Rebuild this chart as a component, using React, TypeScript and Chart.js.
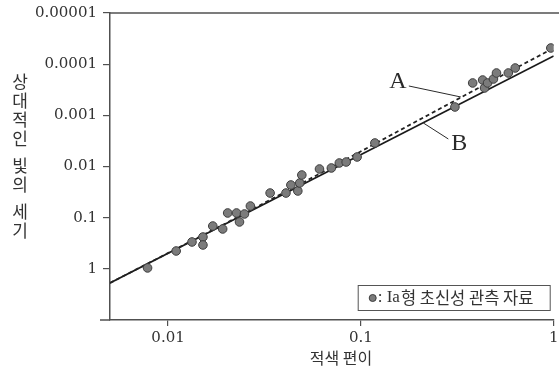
import React, { useEffect, useRef } from "react";
import { Chart, registerables } from "chart.js";

Chart.register(...registerables);

// Observed Type Ia supernovae: redshift (x) and relative brightness (y)
const redshift = [
  0.00783, 0.01102, 0.01331, 0.01517, 0.01517, 0.01706, 0.0192, 0.02038, 0.02265,
  0.0249, 0.02347, 0.02673, 0.03383, 0.04088, 0.04335, 0.0471, 0.0482, 0.0494,
  0.061, 0.0703, 0.0773, 0.0839, 0.0956, 0.1182, 0.3074, 0.38, 0.428, 0.438,
  0.454, 0.487, 0.505, 0.5816, 0.6317, 0.966,
];
const brightness = [
  0.96, 0.448, 0.2985, 0.2388, 0.342, 0.1456, 0.1663, 0.081, 0.081,
  0.0847, 0.1213, 0.0592, 0.033, 0.033, 0.02296, 0.0301, 0.021, 0.01466,
  0.01119, 0.01069, 0.00854, 0.00817, 0.00652, 0.00347, 0.000687, 0.000233, 0.000204, 0.000292,
  0.000233, 0.000195, 0.0001488, 0.0001488, 0.0001188, 0.0000483,
];

// Model line A (dashed) and line B (solid)
const lineARedshift = [0.005, 0.02, 0.06, 0.2, 0.4, 1.0];
const lineABrightness = [1.89, 0.128, 0.01436, 0.001233, 0.000303, 0.0000483];
const lineBRedshift = [0.005, 1.0];
const lineBBrightness = [1.89, 0.0000692];

const xTicks = [0.01, 0.1, 1];
const xTickLabels = ["0.01", "0.1", "1"];
const yTicks = [1, 0.1, 0.01, 0.001, 0.0001, 0.00001];
const yTickLabels = ["1", "0.1", "0.01", "0.001", "0.0001", "0.00001"];
const xMin = 0.005;
const xMax = 1;
const yMin = 0.00001;
const yMax = 10;

const yTitleWords = ["상대적인", "빛의", "세기"];
const xTitle = "적색 편이";
const legendSerif = ": Ia";
const legendKorean = "형 초신성 관측 자료";

// annotation anchors (data coordinates on lines A and B)
const annotA = { label: "A", x: 0.33, y: 0.000438 };
const annotB = { label: "B", x: 0.2108, y: 0.001411 };

const AXIS = "#505050";
const TEXT = "#333333";

const overlay = {
  id: "overlay",
  afterDraw(chart: any) {
    const { ctx, chartArea } = chart;
    const xs = chart.scales.x;
    const ys = chart.scales.y;
    ctx.save();
    // top frame line
    ctx.strokeStyle = AXIS;
    ctx.lineWidth = 1.5;
    ctx.beginPath();
    ctx.moveTo(chartArea.left, chartArea.top);
    ctx.lineTo(chart.width, chartArea.top);
    ctx.stroke();
    // small extension of x axis to the left
    ctx.beginPath();
    ctx.moveTo(chartArea.left - 10, chartArea.bottom);
    ctx.lineTo(chartArea.left, chartArea.bottom);
    ctx.stroke();

    // y title stacked vertically
    ctx.fillStyle = TEXT;
    ctx.font = '17px "Noto Sans CJK KR"';
    ctx.textAlign = "center";
    ctx.textBaseline = "middle";
    let cy = 82;
    yTitleWords.forEach((w, wi) => {
      if (wi > 0) cy += 8;
      for (const ch of Array.from(w)) {
        ctx.fillText(ch, 20, cy);
        cy += 19;
      }
    });

    // x title
    ctx.font = '16px "Noto Sans CJK KR"';
    ctx.fillText(xTitle, 341, 358);

    // annotations
    const drawAnnot = (a: any, lx1: number, ly1: number, lx2: number, ly2: number, tx: number, ty: number) => {
      const px = xs.getPixelForValue(a.x);
      const py = ys.getPixelForValue(a.y);
      ctx.strokeStyle = "#2a2a2a";
      ctx.lineWidth = 1;
      ctx.beginPath();
      ctx.moveTo(px + lx1, py + ly1);
      ctx.lineTo(px + lx2, py + ly2);
      ctx.stroke();
      ctx.fillStyle = "#2a2a2a";
      ctx.font = '24px "Liberation Serif"';
      ctx.textAlign = "center";
      ctx.textBaseline = "middle";
      ctx.fillText(a.label, px + tx, py + ty);
    };
    drawAnnot(annotA, -52, -11, 0, 0, -63, -15);
    drawAnnot(annotB, 0, 0, 25, 16, 36, 21);

    // legend box
    const bx = chartArea.right - 196;
    const by = chartArea.bottom - 35;
    const bw = 192;
    const bh = 25;
    ctx.fillStyle = "#ffffff";
    ctx.fillRect(bx, by, bw, bh);
    ctx.strokeStyle = "#555";
    ctx.lineWidth = 1;
    ctx.strokeRect(bx + 0.5, by + 0.5, bw, bh);
    const my = by + bh / 2 + 0.5;
    ctx.beginPath();
    ctx.arc(bx + 15, my, 3.5, 0, Math.PI * 2);
    ctx.fillStyle = "#7b7b7b";
    ctx.fill();
    ctx.strokeStyle = "#3d3d3d";
    ctx.stroke();
    ctx.fillStyle = TEXT;
    ctx.textAlign = "left";
    ctx.textBaseline = "middle";
    ctx.font = '17px "Liberation Serif"';
    let tx = bx + 20;
    ctx.fillText(legendSerif, tx, my);
    tx += ctx.measureText(legendSerif).width + 1;
    ctx.font = '16.5px "Noto Sans CJK KR"';
    ctx.fillText(legendKorean, tx, my);
    ctx.restore();
  },
};

export default function App() {
  const ref = useRef<HTMLCanvasElement>(null);
  useEffect(() => {
    const canvas = ref.current;
    if (!canvas) return;
    const chart = new Chart(canvas, {
      type: "scatter",
      data: {
        datasets: [
          {
            label: "Ia형 초신성 관측 자료",
            data: redshift.map((z, i) => ({ x: z, y: brightness[i] })),
            pointRadius: 4.3,
            pointBackgroundColor: "#7b7b7b",
            pointBorderColor: "#3d3d3d",
            pointBorderWidth: 1,
            order: 0,
          },
          {
            label: "A",
            data: lineARedshift.map((z, i) => ({ x: z, y: lineABrightness[i] })),
            showLine: true,
            pointRadius: 0,
            borderColor: "#222",
            borderWidth: 1.8,
            borderDash: [4, 3],
            order: 1,
          },
          {
            label: "B",
            data: lineBRedshift.map((z, i) => ({ x: z, y: lineBBrightness[i] })),
            showLine: true,
            pointRadius: 0,
            borderColor: "#1a1a1a",
            borderWidth: 1.8,
            order: 2,
          },
        ],
      } as any,
      options: {
        responsive: false,
        animation: false,
        devicePixelRatio: 1,
        layout: { padding: { top: 13, left: 0, right: 0, bottom: 0 } },
        plugins: { legend: { display: false }, tooltip: { enabled: false } },
        scales: {
          x: {
            type: "logarithmic",
            position: "bottom",
            min: xMin,
            max: xMax,
            bounds: "data",
            afterBuildTicks: (s: any) => {
              s.ticks = xTicks.map((v) => ({ value: v }));
            },
            afterFit: (s: any) => {
              s.height = 56;
              s.paddingLeft = 0;
              s.paddingRight = 0;
            },
            ticks: {
              callback: (v: any) => {
                const i = xTicks.indexOf(Number(v));
                return i >= 0 ? xTickLabels[i] : "";
              },
              font: { family: "DejaVu Serif", size: 15 },
              color: TEXT,
              padding: 3,
              maxRotation: 0,
              autoSkip: false,
            },
            grid: {
              display: true,
              drawOnChartArea: false,
              drawTicks: true,
              tickLength: 6,
              color: AXIS,
              lineWidth: 1.2,
            },
            border: { display: true, color: AXIS, width: 1.5 },
          },
          y: {
            type: "logarithmic",
            position: "left",
            reverse: true,
            min: yMin,
            max: yMax,
            bounds: "data",
            afterBuildTicks: (s: any) => {
              s.ticks = yTicks.map((v) => ({ value: v }));
            },
            afterFit: (s: any) => {
              s.width = 110;
              s.paddingTop = 0;
              s.paddingBottom = 0;
            },
            ticks: {
              callback: (v: any) => {
                const i = yTicks.indexOf(Number(v));
                return i >= 0 ? yTickLabels[i] : "";
              },
              font: { family: "DejaVu Serif", size: 15 },
              color: TEXT,
              padding: 6,
              autoSkip: false,
            },
            grid: {
              display: true,
              drawOnChartArea: false,
              drawTicks: true,
              tickLength: 7,
              color: AXIS,
              lineWidth: 1.2,
            },
            border: { display: true, color: AXIS, width: 1.5 },
          },
        },
      } as any,
      plugins: [overlay],
    });
    return () => chart.destroy();
  }, []);
  return (
    <div style={{ position: "absolute", left: 0, top: 0, width: 559, height: 376, background: "#fff" }}>
      <canvas ref={ref} width={559} height={376} style={{ display: "block" }} />
    </div>
  );
}
